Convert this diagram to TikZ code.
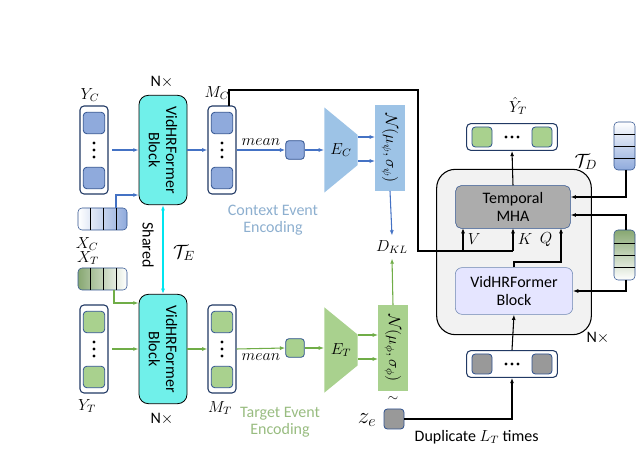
\documentclass[tikz,border=0pt]{standalone}
\usepackage{fontspec}
\setsansfont{Carlito}
\usetikzlibrary{arrows.meta,shapes.geometric}
\definecolor{ablue}{HTML}{4472C4}
\definecolor{agreen}{HTML}{70AD47}
\definecolor{sqblue}{HTML}{8FAADC}
\definecolor{sqgreen}{HTML}{A9D18E}
\definecolor{encblue}{HTML}{9DC3E6}
\definecolor{encgreen}{HTML}{A9D18E}
\definecolor{edge}{HTML}{2F528F}
\definecolor{cyanblk}{HTML}{70F0EA}
\definecolor{shcyan}{HTML}{00E5F0}
\tikzset{
  col/.style={draw=edge!70!black, rounded corners=3pt, fill=white, line width=0.8pt},
  sq/.style={draw=edge, rounded corners=2.5pt, minimum size=16pt, line width=0.6pt},
  blk/.style={draw=black, rounded corners=7pt, fill=cyanblk, minimum width=36pt, minimum height=82pt, line width=0.6pt},
  enc/.style={trapezium, shape border rotate=270, trapezium stretches=true, minimum width=64pt, minimum height=25pt, inner sep=0pt},
  ablk/.style={-{Latex[length=4pt]}, ablue, line width=0.8pt},
  agrn/.style={-{Latex[length=4pt]}, agreen, line width=0.8pt},
  ablack/.style={-{Latex[length=4pt]}, black, line width=0.8pt},
  txt/.style={font=\sffamily\fontsize{12}{13}\selectfont},
  lbl/.style={font=\large},
}
\newcommand{\vdotsat}[2]{\foreach \k in {-7,0,7} \fill (#1,#2+\k) circle (1.3pt);}
\newcommand{\hdotsat}[2]{\foreach \k in {-6,0,6} \fill (#1+\k,#2) circle (1.3pt);}
\begin{document}
\begin{tikzpicture}[x=0.75pt, y=-0.75pt]
  \useasboundingbox (0,0) rectangle (640,470);

  % context branch
  \node[col, minimum width=21pt, minimum height=66pt] (yc) at (94,150) {};
  \node[sq, fill=sqblue] at (94,123) {};
  \node[sq, fill=sqblue] at (94,178) {};
  \vdotsat{94}{150}
  \node[lbl] at (90,95) {$Y_C$};
  \shade[left color=white, right color=sqblue, draw=edge, rounded corners=3pt] (78,208) rectangle (127,230);
  \foreach \i in {90,103,116} \draw (\i,208) -- (\i,230);
  \node[lbl] at (87,244) {$X_C$};
  \node[blk] (bc) at (163,150) {};
  \node[txt, rotate=-90, align=center] at (bc) {VidHRFormer\\Block};
  \node[txt] at (162,82) {N$\times$};
  \node[col, minimum width=21pt, minimum height=66pt] (mc) at (222,150) {};
  \node[sq, fill=sqblue] at (222,123) {};
  \node[sq, fill=sqblue] at (222,178) {};
  \vdotsat{222}{150}
  \node[lbl] at (217,93) {$M_C$};
  \node[sq, fill=sqblue, minimum size=14pt] (pc) at (295,150) {};
  \node[enc, fill=encblue] (ec) at (341,150) {\large$E_C$};
  \node[fill=encblue, minimum width=22pt, minimum height=64pt] (gc) at (390,148) {};
  \node[rotate=-90, lbl] at (gc) {$\mathcal{N}(\mu_\psi,\sigma_\psi)$};
  \node[lbl] (dkl) at (392,247) {$D_{KL}$};
  \node[txt, text=encblue!90!black, align=center] at (273,220) {Context Event\\Encoding};

  \draw[ablk] (112,150) -- (bc.west |- 0,150);
  \draw[ablk] (116,208) |- (bc.west |- 0,195);
  \draw[ablk] (bc.east |- 0,150) -- (mc.west);
  \draw[ablk] (mc.east) -- node[above, black, lbl] {$mean$} (pc.west);
  \draw[ablk] (pc.east) -- (ec.west |- 0,150);
  \draw[ablk] (358,137) -- (gc.west |- 0,137);
  \draw[ablk] (358,161) -- (gc.west |- 0,161);
  \draw[ablk] (gc.south) -- (dkl.north);

  % shared
  \draw[{Latex[length=4pt]}-{Latex[length=4pt]}, shcyan, line width=0.8pt] (bc.south) -- (163,294);
  \node[txt, rotate=-90] at (148,245) {Shared};
  \node[font=\Large] at (184,253) {$\mathcal{T}_E$};

  % target branch
  \node[lbl] at (88,258) {$X_T$};
  \shade[left color=sqgreen!80!black, right color=white, draw=edge, rounded corners=3pt] (78,268) rectangle (127,290);
  \foreach \i in {90,103,116} \draw (\i,268) -- (\i,290);
  \node[col, minimum width=21pt, minimum height=66pt] (yt) at (94,349) {};
  \node[sq, fill=sqgreen] at (94,322) {};
  \node[sq, fill=sqgreen] at (94,377) {};
  \vdotsat{94}{349}
  \node[lbl] at (87,406) {$Y_T$};
  \node[blk] (bt) at (163,349) {};
  \node[txt, rotate=-90, align=center] at (bt) {VidHRFormer\\Block};
  \node[txt] at (162,419) {N$\times$};
  \node[col, minimum width=21pt, minimum height=66pt] (mt) at (222,349) {};
  \node[sq, fill=sqgreen] at (222,322) {};
  \node[sq, fill=sqgreen] at (222,377) {};
  \vdotsat{222}{349}
  \node[lbl] at (220,408) {$M_T$};
  \node[sq, fill=sqgreen, minimum size=14pt] (pt) at (295,348) {};
  \node[enc, fill=encgreen] (et) at (341,350) {\large$E_T$};
  \node[fill=encgreen, minimum width=22pt, minimum height=64pt] (gt) at (393,348) {};
  \node[rotate=-90, lbl] at (gt) {$\mathcal{N}(\mu_\phi,\sigma_\phi)$};
  \node at (393,399) {$\sim$};
  \node[txt, text=encgreen!90!black, align=center] at (280,422) {Target Event\\Encoding};
  \node[sq, fill=gray!80, minimum size=15pt] (ze) at (394,419) {};
  \node[font=\LARGE] at (367,420) {$z_e$};

  \draw[agrn] (112,349) -- (bt.west |- 0,349);
  \draw[agrn] (114,290) |- (bt.west |- 0,303);
  \draw[agrn] (bt.east |- 0,349) -- (mt.west);
  \draw[agrn] (mt.east) -- node[below, black, lbl] {$mean$} (pt.west);
  \draw[agrn] (pt.east) -- (et.west |- 0,348);
  \draw[agrn] (358,335) -- (gt.west |- 0,335);
  \draw[agrn] (358,359) -- (gt.west |- 0,359);
  \draw[agrn] (gt.north) -- (dkl.south);

  % decoder
  \node[draw=black, fill=gray!10, rounded corners=14pt, minimum width=116pt, minimum height=124pt, line width=0.8pt] (dec) at (514,252) {};
  \node[txt] at (598,338) {N$\times$};
  \node at (586,162) {\Large$\mathcal{T}_D$};
  \node[txt, draw=edge, fill=gray!65, rounded corners=4pt, minimum width=86pt, minimum height=32pt, align=center, inner sep=1pt] (mha) at (513,207) {Temporal\\MHA};
  \node[txt, draw=edge!70, fill=blue!10, rounded corners=5pt, minimum width=88pt, minimum height=35pt, align=center, inner sep=1pt] (dvb) at (514,291) {VidHRFormer\\Block};
  \node[col, minimum width=68pt, minimum height=20pt] (yh) at (512,137) {};
  \node[sq, fill=sqgreen, minimum size=15pt] at (482,137) {};
  \node[sq, fill=sqgreen, minimum size=15pt] at (542,137) {};
  \hdotsat{512}{137}
  \node[lbl] at (518,106) {$\hat{Y}_T$};
  \node[col, minimum width=68pt, minimum height=20pt] (inb) at (512,364) {};
  \node[sq, fill=gray!80, minimum size=15pt] at (482,364) {};
  \node[sq, fill=gray!80, minimum size=15pt] at (542,364) {};
  \hdotsat{512}{364}
  \node[txt, anchor=west] (dup) at (410,437) {Duplicate $L_T$ times};

  % side strips
  \shade[top color=white, bottom color=sqblue, draw=edge, rounded corners=3pt] (614,122) rectangle (635,170);
  \foreach \j in {134,146,158} \draw (614,\j) -- (635,\j);
  \shade[top color=sqgreen!80!black, bottom color=white, draw=edge, rounded corners=3pt] (614,230) rectangle (635,280);
  \foreach \j in {243,255,267} \draw (614,\j) -- (635,\j);

  \draw[black, line width=0.8pt] (229,106) |- (418,90) |- (513,251);
  \draw[ablack] (463,251) -- node[right, lbl] {$V$} (463,228);
  \draw[ablack] (513,251) -- node[right, lbl] {$K$} (513,228);
  \draw[ablack] (dvb.north) |- (561,262) -- (561,228);
  \node[lbl] at (546,240) {$Q$};
  \draw[ablack] (mha.north) -- (yh.south);
  \draw[ablack] (inb.north) -- (dvb.south);
  \draw[ablack] (ze.east) -| (inb.south);
  \draw[ablack] (626,170) |- (mha.east |- 0,197);
  \draw[ablack] (626,230) |- (mha.east |- 0,215);
  \draw[ablack] (626,280) |- (dvb.east);
\end{tikzpicture}
\end{document}
